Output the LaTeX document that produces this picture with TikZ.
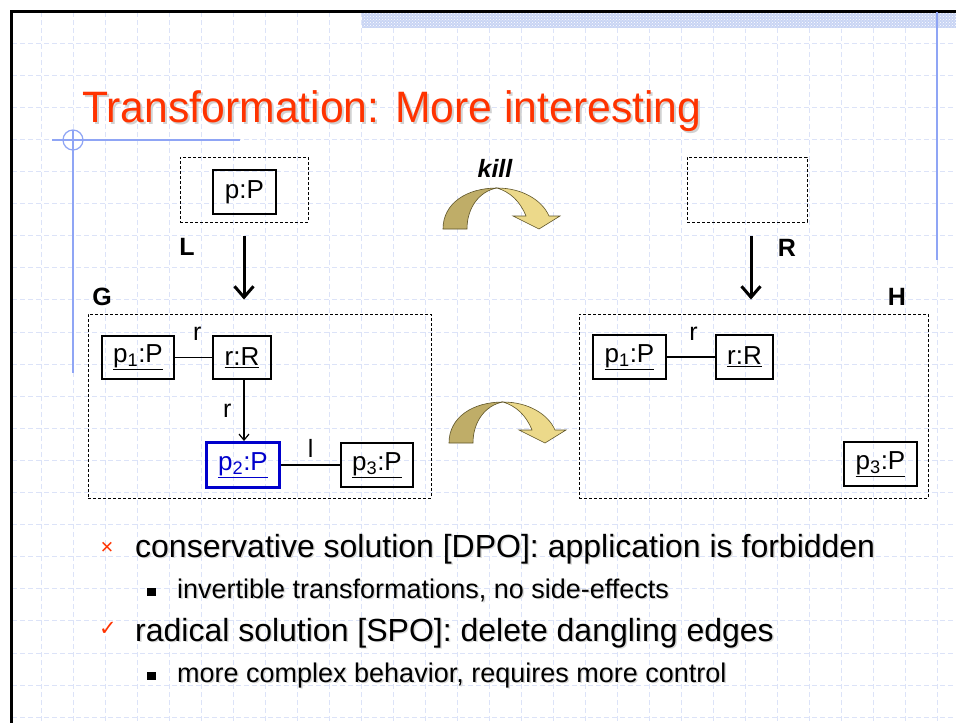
\documentclass[tikz,border=0pt]{standalone}
\usepackage{fontspec}
\setmainfont{Liberation Sans}
\newfontfamily\titlefont[FakeStretch=0.97]{Liberation Sans}
\newfontfamily\symfont{DejaVu Sans}
\usetikzlibrary{arrows.meta, patterns}
\definecolor{titlered}{HTML}{FF3300}
\definecolor{gridblue}{HTML}{DCE3F8}
\definecolor{frameblue}{HTML}{8FA5F5}
\definecolor{bandblue}{HTML}{C8D4F4}
\definecolor{objblue}{HTML}{0000CC}
\definecolor{arrowdark}{HTML}{BFAD68}
\definecolor{arrowlight}{HTML}{ECD98A}
\definecolor{arrowedge}{HTML}{5E5428}

\begin{document}
\begin{tikzpicture}[x=1pt, y=-1pt,
  obj/.style={draw, line width=1.5pt, inner sep=0pt, font=\fontsize{26}{30}\selectfont},
  frame/.style={draw, dash pattern=on 3pt off 2pt, line width=0.9pt, inner sep=0pt},
  maparrow/.style={line width=3pt, -{Straight Barb[length=11pt,width=19pt]}, shorten <=14pt, shorten >=14pt},
  link/.style={line width=1.2pt},
  elbl/.style={font=\fontsize{25}{28}\selectfont, inner sep=0pt},
  lbl/.style={font=\fontsize{25}{28}\selectfont\bfseries, inner sep=0pt},
  bodytext/.style={anchor=base west, inner sep=0pt, font=\fontsize{32}{36}\selectfont},
  subtext/.style={anchor=base west, inner sep=0pt, font=\fontsize{27}{30}\selectfont}]
  \useasboundingbox (0,0) rectangle (956,723);
  \fill[white] (0,0) rectangle (956,723);

  % Slide background grid
  \foreach \k in {0,...,28}
    \draw[gridblue, line width=0.8pt, dash pattern=on 5pt off 3pt] (41+32*\k,12) -- (41+32*\k,723);
  \foreach \k in {0,...,21}
    \draw[gridblue, line width=0.8pt, dash pattern=on 5pt off 3pt] (12,43+32.1*\k) -- (956,43+32.1*\k);

  % Slide frame and decoration
  \fill[bandblue] (362,12) rectangle (956,28);
  \fill[pattern=crosshatch dots, pattern color=white] (362,12) rectangle (956,28);
  \draw[line width=3pt] (11,723) -- (11,11) -- (956,11);
  \draw[frameblue, line width=2pt] (937,12) -- (937,260);
  \draw[frameblue, line width=1.5pt] (52,140) -- (240,140);
  \draw[frameblue, line width=1.5pt] (73,130) -- (73,373);
  \draw[frameblue, line width=1.2pt] (73,140) circle (10);

  % Title
  \node[anchor=base west, inner sep=0pt, font=\titlefont\fontsize{44}{50}\selectfont, text=black!18] (titleshadow) at (84,124) {Transformation: More interesting};
  \node[anchor=base west, inner sep=0pt, font=\titlefont\fontsize{44}{50}\selectfont, text=titlered] (title) at (82,122) {Transformation: More interesting};

  % Rule L -> R
  \node[frame, minimum width=128pt, minimum height=65pt] (Lbox) at (244,189.5) {};
  \node[obj, minimum width=63pt, minimum height=44pt] (pP) at (244.5,192) {p:P};
  \node[frame, minimum width=120pt, minimum height=65pt] (Rbox) at (747,189.5) {};
  \node[lbl] (Llbl) at (187,247) {L};
  \node[lbl] (Rlbl) at (787,248) {R};
  \node[lbl, font=\fontsize{25}{28}\selectfont\bfseries\itshape] (kill) at (495,168) {kill};

  % Host graph G
  \node[frame, minimum width=343pt, minimum height=184pt] (Gbox) at (259.5,406) {};
  \node[lbl] (Glbl) at (102,297) {G};
  \node[obj, minimum width=72pt, minimum height=43pt] (p1G) at (138,357.5) {\underline{p\textsubscript{1}:P}};
  \node[obj, minimum width=58pt, minimum height=43pt] (rG) at (242,357.5) {\underline{r:R}};
  \node[obj, draw=objblue, text=objblue, line width=3pt, minimum width=73pt, minimum height=45pt] (p2G) at (243,465) {\underline{p\textsubscript{2}:P}};
  \node[obj, minimum width=72pt, minimum height=44pt] (p3G) at (377,465) {\underline{p\textsubscript{3}:P}};

  % Result graph H
  \node[frame, minimum width=349pt, minimum height=184pt] (Hbox) at (753.5,406) {};
  \node[lbl] (Hlbl) at (897,297) {H};
  \node[obj, minimum width=73pt, minimum height=44pt] (p1H) at (629.5,357) {\underline{p\textsubscript{1}:P}};
  \node[obj, minimum width=57pt, minimum height=44pt] (rH) at (744.5,357) {\underline{r:R}};
  \node[obj, minimum width=73pt, minimum height=44pt] (p3H) at (880.5,464) {\underline{p\textsubscript{3}:P}};

  % Matches
  \draw[maparrow] (Lbox.south) -- (Lbox.south |- Gbox.north);
  \draw[maparrow] ([xshift=4pt]Rbox.south) -- ([xshift=4pt]Rbox.south |- Hbox.north);

  % Edges
  \draw[link] (p1G) -- node[elbl, pos=0.6, anchor=south, yshift=16pt] (rlblG) {r} (rG);
  \draw[link, -{Straight Barb[length=6pt,width=10pt]}] (rG.south -| 244,0) -- node[elbl, anchor=east, xshift=-12pt] (rrlbl) {r} (p2G.north -| 244,0);
  \draw[link] (p2G) -- node[elbl, anchor=south, yshift=7pt] (llbl) {l} (p3G);
  \draw[link] (p1H) -- node[elbl, pos=0.55, anchor=south, yshift=16pt] (rlblH) {r} (rH);

  % Transformation arrows
  \foreach \dx/\dy in {0/0, 6/214} {
    \begin{scope}[shift={(\dx,\dy)}]
      \filldraw[fill=arrowdark, draw=arrowedge, line width=0.6pt]
        (443,229) .. controls (443,203) and (467,188) .. (497,188)
        .. controls (480,191) and (467,207) .. (467,229) -- cycle;
      \filldraw[fill=arrowlight, draw=arrowedge, line width=0.6pt]
        (497,188) .. controls (522,188) and (542,200) .. (549,216)
        -- (560,216) -- (539,229) -- (513,216) -- (526,216)
        .. controls (520,201) and (510,192) .. (497,188) -- cycle;
    \end{scope}
  }

  % Bullets
  \node[font=\fontsize{22}{24}\selectfont, text=titlered, inner sep=0pt] (cross) at (107,548) {×};
  \node[bodytext, text=black!15] at (136.5,558.5) {conservative solution [DPO]: application is forbidden};
  \node[bodytext] (line1) at (135,557) {conservative solution [DPO]: application is forbidden};
  \fill (147,588) rectangle (156,596);
  \node[subtext, text=black!15] at (178.5,599.5) {invertible transformations, no side-effects};
  \node[subtext] (line2) at (177,598) {invertible transformations, no side-effects};
  \node[font=\symfont\fontsize{21}{24}\selectfont, text=titlered, inner sep=0pt] (check) at (108,629) {✓};
  \node[bodytext, text=black!15] at (136.5,642.5) {radical solution [SPO]: delete dangling edges};
  \node[bodytext] (line3) at (135,641) {radical solution [SPO]: delete dangling edges};
  \fill (147,672) rectangle (156,680);
  \node[subtext, text=black!15] at (178.5,683.5) {more complex behavior, requires more control};
  \node[subtext] (line4) at (177,682) {more complex behavior, requires more control};
\end{tikzpicture}
\end{document}
